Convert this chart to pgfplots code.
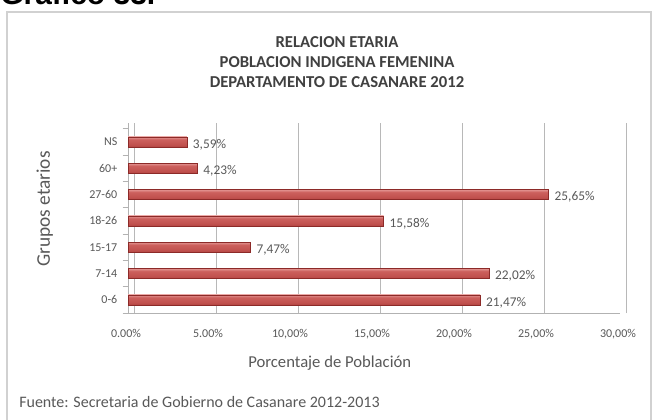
\documentclass[border=0pt]{standalone}
\usepackage{pgfplots}
\pgfplotsset{compat=1.18}
\usepackage{fontspec}
\setmainfont{Carlito}
\newfontfamily\arialfont{Liberation Sans}
\definecolor{txt}{HTML}{595959}
\definecolor{ttl}{HTML}{404040}
\definecolor{cdark}{HTML}{8C2A28}
\definecolor{cmid}{HTML}{C0504D}
\definecolor{cmid2}{HTML}{CC605D}
\definecolor{clight}{HTML}{E9A3A1}
\definecolor{gridc}{HTML}{B8B8B8}
\pgfdeclareverticalshading{cyl}{100bp}{color(0bp)=(cdark); color(35bp)=(cmid); color(62bp)=(cmid2); color(78bp)=(clight); color(90bp)=(cmid); color(100bp)=(cdark)}
\pgfplotsset{cylbar/.style={xbar, bar width=7.5pt, bar shift=0pt, shade, shading=cyl, draw=cdark, line width=0.4pt}}
\begin{document}
\begin{tikzpicture}[x=0.75pt,y=0.75pt]
\useasboundingbox (0,0) rectangle (654,419);
\begin{scope}
\clip (0,0) rectangle (654,419);
\fill[white] (0,0) rectangle (654,419);
\node[anchor=base west, inner sep=0, font=\arialfont\bfseries\fontsize{22.5}{24}\selectfont] at (0,414) {Gráfico 33.};
\draw[black!18, line width=1.6pt] (7,407) rectangle (651,-11);
\end{scope}
\node[font=\bfseries\fontsize{12.5}{14}\selectfont, text=ttl] at (337,377) {RELACION ETARIA};
\node[font=\bfseries\fontsize{12.5}{14}\selectfont, text=ttl] at (337,357) {POBLACION INDIGENA FEMENINA};
\node[font=\bfseries\fontsize{12.5}{14}\selectfont, text=ttl] at (337,337) {DEPARTAMENTO DE CASANARE 2012};
\node[anchor=west, font=\fontsize{12}{14}\selectfont, text=txt, inner sep=0] at (19,17) {Fuente: Secretaria de Gobierno de Casanare 2012-2013};
\coordinate (A) at (128,106);
\begin{axis}[
  at={(A)}, anchor=south west,
  scale only axis, width=369pt, height=142.5pt,
  xmin=0, xmax=30, ymin=-0.5, ymax=6.72,
  xtick={0,5,10,15,20,25,30},
  xticklabels={0.00\%,5.00\%,{10,00\%},{15,00\%},{20,00\%},{25,00\%},{30,00\%}},
  ytick={0,1,2,3,4,5,6},
  yticklabels={0-6,7-14,15-17,18-26,27-60,60+,NS},
  xtick style={draw=none}, ytick style={draw=none},
  extra y ticks={-0.5,0.5,1.5,2.5,3.5,4.5,5.5,6.5},
  extra y tick labels={},
  extra y tick style={ytick style={draw=gray!60, line width=0.6pt}, major tick length=4pt, tick align=outside},
  axis x line*=bottom, axis y line*=left,
  axis line style={gray!60, line width=0.6pt},
  xmajorgrids, major grid style={gridc, line width=0.6pt, xshift=4.5pt},
  tick label style={font=\fontsize{9}{10}\selectfont, text=txt},
  xticklabel style={yshift=-9pt, xshift=-1.5pt},
  yticklabel style={xshift=-4.5pt},
  /pgf/number format/assume math mode=true,
  xlabel={Porcentaje de Población},
  xlabel style={at={(axis description cs:0.41,-0.263)}, anchor=center, font=\fontsize{12.5}{14}\selectfont, text=txt},
  ylabel={Grupos etarios},
  ylabel style={at={(axis description cs:-0.169,0.547)}, anchor=center, font=\fontsize{14.5}{16}\selectfont, text=txt},
  point meta=x,
  nodes near coords={\pgfmathprintnumber[fixed,fixed zerofill,precision=2,use comma]{\pgfplotspointmeta}\%},
  nodes near coords style={font=\fontsize{10}{11}\selectfont, text=txt, anchor=west, xshift=1pt, yshift=-2pt},
]
\addplot[cylbar] coordinates {(21.47,0)};
\addplot[cylbar] coordinates {(22.02,1)};
\addplot[cylbar] coordinates {(7.47,2)};
\addplot[cylbar] coordinates {(15.58,3)};
\addplot[cylbar] coordinates {(25.65,4)};
\addplot[cylbar] coordinates {(4.23,5)};
\addplot[cylbar] coordinates {(3.59,6)};
\end{axis}
\end{tikzpicture}
\end{document}
